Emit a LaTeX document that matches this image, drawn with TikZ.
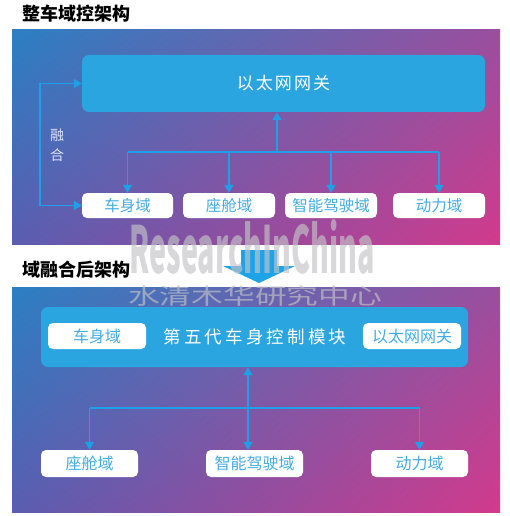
\documentclass[tikz,border=0pt]{standalone}
\usepackage{fontspec}
\setmainfont{Noto Sans CJK SC}
\usepackage{graphicx}
\usetikzlibrary{arrows.meta,shadings}
\definecolor{cUL}{HTML}{2B7FC3}
\definecolor{cUR}{HTML}{9A4E9E}
\definecolor{cLL}{HTML}{5A5DB0}
\definecolor{cLR}{HTML}{D23A8C}
\definecolor{boxblue}{HTML}{2BA5E0}
\definecolor{txtblue}{HTML}{45ACE0}
\definecolor{lineblue}{HTML}{1E9FE8}
\definecolor{bigarrow}{HTML}{1EA2E8}
\definecolor{wmgray}{HTML}{C4C4C8}
\begin{document}
\begin{tikzpicture}[x=1pt,y=-1pt,
  panel/.style={upper left=cUL, upper right=cUR, lower left=cLL, lower right=cLR},
  bluebox/.style={fill=boxblue, rounded corners=7pt, inner sep=0pt, text=white},
  whitebox/.style={fill=white, rounded corners=5pt, inner sep=0pt, text=txtblue, font=\fontsize{15.5}{16}\selectfont},
  link/.style={draw=lineblue, line width=1.4pt},
  tipend/.style={-{Triangle[length=8pt,width=9pt]}},
  tipboth/.style={{Triangle[length=8pt,width=9pt]}-{Triangle[length=8pt,width=9pt]}},
  title/.style={font=\fontsize{18}{18}\selectfont\bfseries, text=black, inner sep=0pt},
  watermark/.style={text=wmgray, opacity=0.65, inner sep=0pt}
]
\useasboundingbox (0,0) rectangle (509,516);
\fill[white] (0,0) rectangle (509,516);

% ---------- top panel ----------
\node[title] (t1) at (76,14) {整车域控架构};
\shade[panel] (12,30) rectangle (500,244);

\node[bluebox, minimum width=403pt, minimum height=57pt,
      font=\fontsize{17}{17}\selectfont\addfontfeature{LetterSpace=12}] (gw) at (283.5,83.5) {以太网网关};
\node[whitebox, minimum width=91pt, minimum height=25pt] (body) at (127.5,205.5) {车身域};
\node[whitebox, minimum width=92pt, minimum height=25pt] (cabin) at (229,205.5) {座舱域};
\node[whitebox, minimum width=92pt, minimum height=25pt] (adas) at (331,205.5) {智能驾驶域};
\node[whitebox, minimum width=92pt, minimum height=25pt] (power) at (439,205.5) {动力域};

\coordinate (hub) at (277,152);
\draw[link, tipend] (hub) -- (hub |- gw.south);
\draw[link] (body |- hub) -- (power |- hub);
\foreach \n in {body,cabin,adas,power}
  \draw[link, tipend] (\n |- hub) -- (\n.north);

\coordinate (fz1) at (40,83.5);
\coordinate (fz2) at (40,205.5);
\draw[link, tipboth] (gw.west) -- (fz1) -- (fz2) -- (body.west);
\node[text=white!88!blue, font=\fontsize{14}{14}\selectfont, inner sep=0pt] (fuse1) at (57,135) {融};
\node[text=white!88!blue, font=\fontsize{14}{14}\selectfont, inner sep=0pt] (fuse2) at (57,155) {合};

% ---------- transition arrow ----------
\fill[bigarrow] (241,250) -- (277,250) -- (277,266) -- (295,266) -- (259,283)
  -- (223,266) -- (241,266) -- cycle;

% ---------- bottom panel ----------
\node[title] (t2) at (76,270) {域融合后架构};
\shade[panel] (12,287) rectangle (500,512);

\node[bluebox, minimum width=427pt, minimum height=60pt] (mod) at (254.5,337) {};
\node[text=white, inner sep=0pt,
      font=\fontsize{17.5}{18}\selectfont\addfontfeature{LetterSpace=18}] (modtxt) at (255,337) {第五代车身控制模块};
\node[whitebox, minimum width=98pt, minimum height=26pt, font=\fontsize{16}{16}\selectfont] (body2) at (97,336) {车身域};
\node[whitebox, minimum width=98pt, minimum height=26pt, font=\fontsize{16}{16}\selectfont] (gw2) at (412,336) {以太网网关};

\node[whitebox, minimum width=97pt, minimum height=27pt, font=\fontsize{16}{16}\selectfont] (cabin2) at (89.5,463.5) {座舱域};
\node[whitebox, minimum width=97pt, minimum height=27pt, font=\fontsize{16}{16}\selectfont] (adas2) at (254.5,463.5) {智能驾驶域};
\node[whitebox, minimum width=97pt, minimum height=27pt, font=\fontsize{16}{16}\selectfont] (power2) at (419.5,463.5) {动力域};

\coordinate (hub2) at (248,408);
\draw[link, tipboth] (hub2 |- mod.south) -- (hub2 |- adas2.north);
\draw[link] (cabin2 |- hub2) -- (power2 |- hub2);
\draw[link, tipend] (cabin2 |- hub2) -- (cabin2.north);
\draw[link, tipend] (power2 |- hub2) -- (power2.north);

% ---------- watermark ----------
\node[watermark] (wm1) at (252,247) {\resizebox{245pt}{54pt}{\bfseries ResearchInChina}};
\node[watermark] (wm2) at (255,296) {\resizebox{254pt}{19pt}{水清木华研究中心}};
\end{tikzpicture}
\end{document}
